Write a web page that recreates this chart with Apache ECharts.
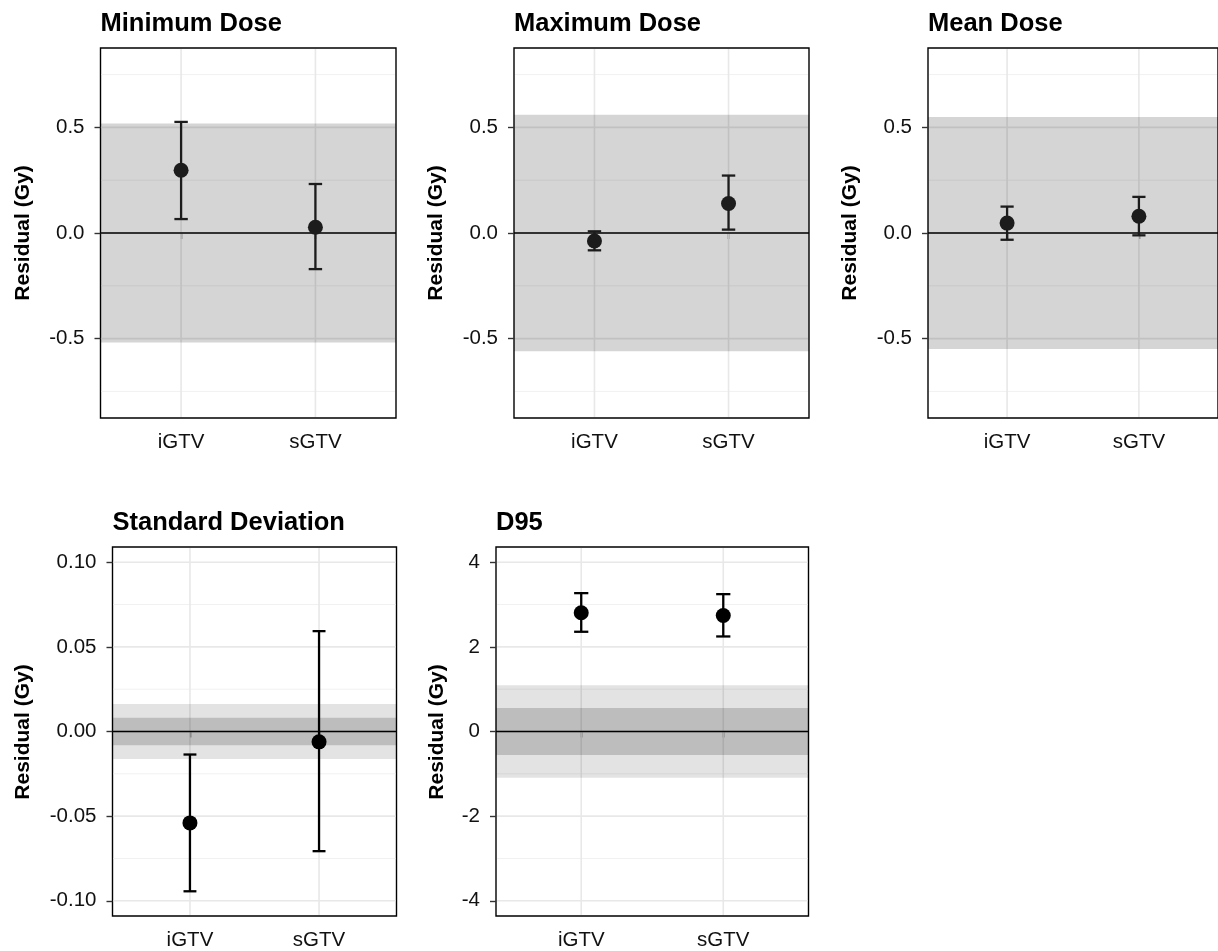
<!DOCTYPE html>
<html>
<head>
<meta charset="utf-8">
<script src="https://cdn.jsdelivr.net/npm/echarts@6/dist/echarts.min.js"></script>
<style>
html,body{margin:0;padding:0;background:#fff;}
#main{width:1218px;height:951px;}
</style>
</head>
<body>
<div id="main"></div>
<script>
// ---------- data ----------
const categories = ['iGTV', 'sGTV'];
const panelTitles = ['Minimum Dose', 'Maximum Dose', 'Mean Dose', 'Standard Deviation', 'D95'];
const yAxisTitle = 'Residual (Gy)';

const minDoseMean  = [0.297, 0.027];
const minDoseLower = [0.066, -0.171];
const minDoseUpper = [0.526, 0.232];

const maxDoseMean  = [-0.038, 0.140];
const maxDoseLower = [-0.082, 0.016];
const maxDoseUpper = [0.008, 0.272];

const meanDoseMean  = [0.047, 0.079];
const meanDoseLower = [-0.032, -0.011];
const meanDoseUpper = [0.125, 0.171];

const sdMean  = [-0.0540, -0.0061];
const sdLower = [-0.0944, -0.0707];
const sdUpper = [-0.0136, 0.0593];

const d95Mean  = [2.806, 2.742];
const d95Lower = [2.357, 2.246];
const d95Upper = [3.270, 3.246];

// tolerance bands (half-widths, outer first)
const minDoseBands  = [0.518];
const maxDoseBands  = [0.560];
const meanDoseBands = [0.549];
const sdBands       = [0.0162, 0.0081];
const d95Bands      = [1.095, 0.555];

// y axis ticks and limits
const yTicksDose = [-0.5, 0, 0.5];
const yTicksSd   = [-0.10, -0.05, 0, 0.05, 0.10];
const yTicksD95  = [-4, -2, 0, 2, 4];
const yLimDose = [-0.876, 0.876];
const yLimSd   = [-0.109, 0.109];
const yLimD95  = [-4.36, 4.36];

// ---------- layout / style ----------
const FONT = '"Liberation Sans", Arial, Helvetica, sans-serif';
const panels = [
  {title: panelTitles[0], mean: minDoseMean, lo: minDoseLower, hi: minDoseUpper, bands: minDoseBands, ticks: yTicksDose, lim: yLimDose, dec: 1, box: [100.5, 48, 295.5, 370], yTitleX: 23, color: '#1c1c1c'},
  {title: panelTitles[1], mean: maxDoseMean, lo: maxDoseLower, hi: maxDoseUpper, bands: maxDoseBands, ticks: yTicksDose, lim: yLimDose, dec: 1, box: [514, 48, 295, 370], yTitleX: 436, color: '#1c1c1c'},
  {title: panelTitles[2], mean: meanDoseMean, lo: meanDoseLower, hi: meanDoseUpper, bands: meanDoseBands, ticks: yTicksDose, lim: yLimDose, dec: 1, box: [928, 48, 295, 370], yTitleX: 850, color: '#1c1c1c'},
  {title: panelTitles[3], mean: sdMean, lo: sdLower, hi: sdUpper, bands: sdBands, ticks: yTicksSd, lim: yLimSd, dec: 2, box: [112.5, 547, 284, 370], yTitleX: 23, color: '#000'},
  {title: panelTitles[4], mean: d95Mean, lo: d95Lower, hi: d95Upper, bands: d95Bands, ticks: yTicksD95, lim: yLimD95, dec: 0, box: [496, 547, 312.5, 370], yTitleX: 437, color: '#000'}
];
const bandAlphaSingle = [0.165];
const bandAlphaDouble = [0.11, 0.165];

const grids = [], xAxes = [], yAxes = [], series = [], graphics = [];
const xPos = categories.map((c, j) => j + 1);

panels.forEach((p, i) => {
  const [L, T, W, H] = p.box;
  grids.push({left: L, top: T, width: W, height: H, show: true, backgroundColor: '#fff', borderColor: '#000', borderWidth: 1.4});
  xAxes.push({
    gridIndex: i, type: 'value', min: 0.4, max: 2.6,
    axisLine: {show: false}, splitLine: {show: false},
    axisTick: {show: true, customValues: xPos, length: 6, lineStyle: {color: '#333', width: 1.4}},
    axisLabel: {customValues: xPos, formatter: v => categories[Math.round(v) - 1] || '', fontSize: 20.5, fontFamily: FONT, color: '#111', margin: 14}
  });
  yAxes.push({
    gridIndex: i, type: 'value', min: p.lim[0], max: p.lim[1],
    axisLine: {show: false}, splitLine: {show: false},
    axisTick: {show: true, customValues: p.ticks, length: 6, lineStyle: {color: '#333', width: 1.4}},
    axisLabel: {customValues: p.ticks, formatter: v => Number(v).toFixed(p.dec), fontSize: 20.5, fontFamily: FONT, color: '#111', margin: 16}
  });

  const step = p.ticks[1] - p.ticks[0];
  const minors = [];
  for (let k = -1; k < p.ticks.length; k++) {
    const m = p.ticks[0] + step * (k + 0.5);
    if (m > p.lim[0] && m < p.lim[1]) minors.push(m);
  }
  const gridData = [].concat(
    p.ticks.map(v => [0, v]),
    minors.map(v => [1, v]),
    xPos.map(v => [2, v])
  );
  series.push({
    type: 'custom', xAxisIndex: i, yAxisIndex: i, z: 1, silent: true,
    data: gridData,
    renderItem: (params, api) => {
      const kind = api.value(0), v = api.value(1);
      const cs = params.coordSys;
      if (kind === 2) {
        const x = api.coord([v, 0])[0];
        return {type: 'line', shape: {x1: x, y1: cs.y + 1, x2: x, y2: cs.y + cs.height - 1}, style: {stroke: '#e8e8e8', lineWidth: 1.6}};
      }
      const y = api.coord([1, v])[1];
      return {type: 'line', shape: {x1: cs.x + 1, y1: y, x2: cs.x + cs.width - 1, y2: y},
        style: {stroke: kind === 0 ? '#e8e8e8' : '#f1f1f1', lineWidth: kind === 0 ? 1.6 : 1}};
    }
  });

  const alphas = p.bands.length === 1 ? bandAlphaSingle : bandAlphaDouble;
  series.push({
    type: 'custom', xAxisIndex: i, yAxisIndex: i, z: 2, silent: true,
    data: p.bands.map((h, j) => [h, j]),
    renderItem: (params, api) => {
      const h = api.value(0), j = api.value(1);
      const cs = params.coordSys;
      const y1 = api.coord([1, h])[1], y2 = api.coord([1, -h])[1];
      return {type: 'rect', shape: {x: cs.x, y: y1, width: cs.width, height: y2 - y1}, style: {fill: 'rgba(0,0,0,' + alphas[j] + ')'}};
    }
  });

  series.push({
    type: 'custom', xAxisIndex: i, yAxisIndex: i, z: 3, silent: true,
    data: [[1, 0]],
    renderItem: (params, api) => {
      const cs = params.coordSys;
      const y = api.coord([1, api.value(1)])[1];
      return {type: 'line', shape: {x1: cs.x, y1: y, x2: cs.x + cs.width, y2: y}, style: {stroke: '#000', lineWidth: 1.7}};
    }
  });

  series.push({
    type: 'custom', xAxisIndex: i, yAxisIndex: i, z: 4, silent: true,
    data: xPos.map((x, j) => [x, p.lo[j], p.hi[j]]),
    renderItem: (params, api) => {
      const x = api.value(0);
      const pLo = api.coord([x, api.value(1)]);
      const pHi = api.coord([x, api.value(2)]);
      const half = api.size([0.1, 0])[0] / 2;
      const st = {stroke: p.color, lineWidth: 2.3};
      return {type: 'group', children: [
        {type: 'line', shape: {x1: pLo[0], y1: pLo[1], x2: pHi[0], y2: pHi[1]}, style: st},
        {type: 'line', shape: {x1: pLo[0] - half, y1: pLo[1], x2: pLo[0] + half, y2: pLo[1]}, style: st},
        {type: 'line', shape: {x1: pHi[0] - half, y1: pHi[1], x2: pHi[0] + half, y2: pHi[1]}, style: st}
      ]};
    }
  });

  series.push({
    type: 'scatter', xAxisIndex: i, yAxisIndex: i, z: 5, silent: true,
    symbol: 'circle', symbolSize: 15,
    itemStyle: {color: p.color, opacity: 1},
    data: xPos.map((x, j) => [x, p.mean[j]])
  });

  graphics.push({
    type: 'text', x: L, y: T - 37.5, z: 10,
    style: {text: p.title, font: 'bold 25.5px ' + FONT, fill: '#000', align: 'left', verticalAlign: 'top'}
  });
  graphics.push({
    type: 'text', x: p.yTitleX, y: T + H / 2, rotation: Math.PI / 2, z: 10,
    style: {text: yAxisTitle, font: 'bold 21px ' + FONT, fill: '#000', align: 'center', verticalAlign: 'middle'}
  });
});

const chart = echarts.init(document.getElementById('main'), null, {renderer: 'canvas'});
chart.setOption({
  animation: false,
  backgroundColor: '#fff',
  grid: grids,
  xAxis: xAxes,
  yAxis: yAxes,
  series: series,
  graphic: graphics
});
</script>
</body>
</html>
